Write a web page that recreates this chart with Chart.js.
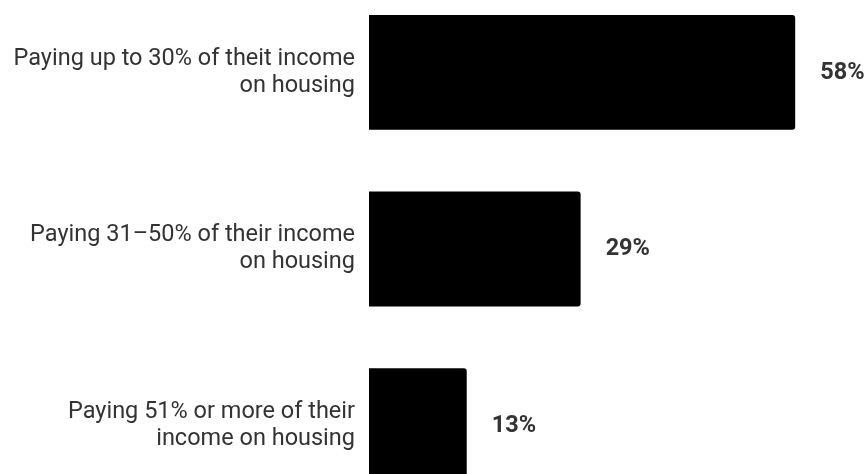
<!DOCTYPE html>
<html>
<head>
<meta charset="utf-8">
<script src="https://cdn.jsdelivr.net/npm/chart.js@4/dist/chart.umd.min.js"></script>
<style>
  html, body { margin: 0; padding: 0; background: #fff; overflow: hidden; }
  #housingChart { position: absolute; left: 0; top: -16px; }
</style>
</head>
<body>
<canvas id="housingChart" width="865" height="530"></canvas>
<script>
const categories = [
    ['Paying up to 30% of theit income', 'on housing'],
    ['Paying 31\u201350% of their income', 'on housing'],
    ['Paying 51% or more of their', 'income on housing']
];
const shares = [58, 28.8, 13.3];
const valueLabels = ['58%', '29%', '13%'];

const valueLabelPlugin = {
    id: 'valueLabels',
    afterDatasetsDraw(chart) {
        const ctx = chart.ctx;
        const meta = chart.getDatasetMeta(0);
        ctx.save();
        ctx.font = 'bold 23.5px Roboto';
        ctx.fillStyle = '#333333';
        ctx.textBaseline = 'middle';
        ctx.textAlign = 'left';
        meta.data.forEach((bar, i) => {
            const text = valueLabels[i];
            const w = ctx.measureText(text).width;
            let x = bar.x + 25;
            if (x + w > chart.width) x = chart.width - w;
            ctx.fillText(text, x, bar.y + 0.5);
        });
        ctx.restore();
    }
};

new Chart(document.getElementById('housingChart').getContext('2d'), {
    type: 'bar',
    data: {
        labels: categories,
        datasets: [{
            data: shares,
            backgroundColor: '#000000',
            borderWidth: 0,
            borderRadius: 3,
            barPercentage: 0.65,
            categoryPercentage: 1
        }]
    },
    options: {
        indexAxis: 'y',
        responsive: false,
        animation: false,
        layout: { padding: 0 },
        plugins: {
            legend: { display: false },
            tooltip: { enabled: false }
        },
        scales: {
            x: {
                min: 0,
                max: 67.5,
                display: false
            },
            y: {
                grid: { display: false, drawTicks: false },
                border: { display: false },
                afterFit(scale) {
                    // fixed label column, and no extra room for the outer labels
                    scale.width = 369;
                    scale.paddingTop = 0;
                    scale.paddingBottom = 0;
                },
                ticks: {
                    color: '#333333',
                    padding: 14,
                    font: { family: 'Roboto', size: 23.5, lineHeight: 1.15 }
                }
            }
        }
    },
    plugins: [valueLabelPlugin]
});
</script>
</body>
</html>
